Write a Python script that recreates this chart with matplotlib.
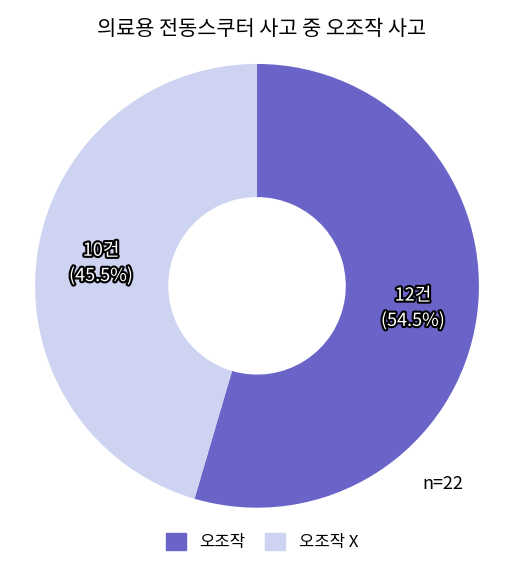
import matplotlib
matplotlib.use("Agg")
import matplotlib.pyplot as plt
import matplotlib.patheffects as pe
import numpy as np

plt.rcParams['font.family'] = ['Noto Sans CJK KR', 'DejaVu Sans']

categories = ['오조작', '오조작 X']
values = [12, 10]
colors = ['#6a64c8', '#cdd3f0']
title = '의료용 전동스쿠터 사고 중 오조작 사고'

fig = plt.figure(figsize=(5.24, 5.66), dpi=100)
ax = fig.add_axes([0.067, 0.103, 0.847, 0.784])
wedges, _ = ax.pie(values, colors=colors, startangle=90, counterclock=False,
                   wedgeprops=dict(width=0.6, edgecolor='none'))
ax.set_xlim(-1, 1); ax.set_ylim(-1, 1); ax.set_aspect('auto')
total = sum(values)
for w, v in zip(wedges, values):
    ang = np.deg2rad((w.theta1 + w.theta2) / 2)
    r = 0.71
    ax.text(r*np.cos(ang), r*np.sin(ang), f'{v}건\n({v/total*100:.1f}%)',
            ha='center', va='center', fontsize=13, color='white', linespacing=1.5,
            path_effects=[pe.withStroke(linewidth=3, foreground='black')])
fig.text(0.5, 0.948, title, ha='center', va='center', fontsize=15)
fig.text(0.845, 0.145, f'n={total}', ha='center', va='center', fontsize=13)
handles = [plt.Rectangle((0, 0), 1, 1, color=c) for c in colors]
fig.legend(handles, categories, loc='center', bbox_to_anchor=(0.5, 0.043), ncol=2,
           frameon=False, fontsize=12, handlelength=1.2, handleheight=1.2, columnspacing=1.2)
fig.savefig('out.png', dpi=100)
